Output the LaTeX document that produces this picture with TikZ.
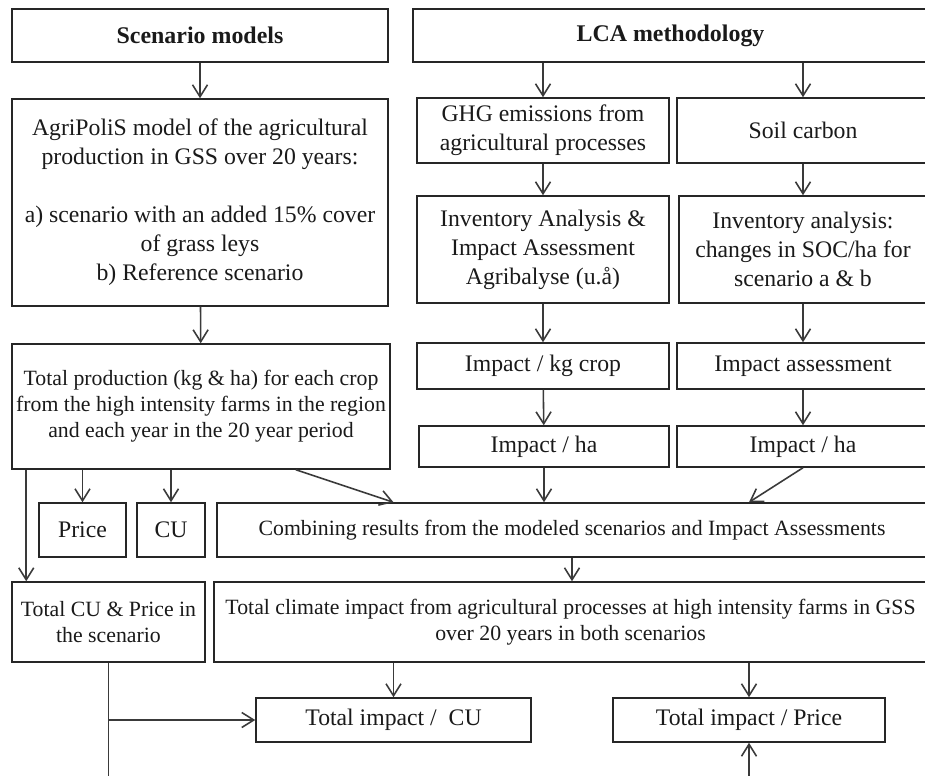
\documentclass[tikz,border=0pt]{standalone}
\usepackage{fontspec}
\setmainfont{Liberation Serif}
\usepackage{tikz}
\usetikzlibrary{arrows.meta,positioning,calc}
\definecolor{ink}    {HTML}{1A1A1A}
\definecolor{boxline}{HTML}{262626}
\definecolor{wire}   {HTML}{3A3A3A}
\tikzset{
  flownode/.style={
    rectangle, draw=boxline, line width=0.85pt, fill=white,
    text=ink, font=\fontsize{13.5}{16.5}\selectfont, align=center,
    inner sep=2pt
  },
  flowhead/.style={
    flownode, font=\fontsize{13.6}{16.5}\selectfont\bfseries
  },
  flowsmall/.style={
    flownode, font=\fontsize{12.4}{14.8}\selectfont
  },
  flowarrow/.style={
    -{Straight Barb[length=2.4mm, width=3mm, line width=0.9pt]}, line width=0.9pt, draw=wire
  },
  flowline/.style={line width=0.9pt, draw=wire}
}

\begin{document}
\begin{tikzpicture}[
          x=0.02cm, y=-0.02cm,
          wh/.style 2 args={minimum width=#1*0.02cm, minimum height=#2*0.02cm}
        ]
        \useasboundingbox (0,0) rectangle (925,776);
        \clip (0,0) rectangle (925,776);
        \node[flowhead, wh={376}{53}]  (scen) at (200,35.5) {Scenario models};
        \node[flowhead, wh={515}{53}]  (lca)  at (670.5,35.5) {LCA methodology};
        \node[flownode, wh={376}{207}] (agri) at (200,202.5) {AgriPoliS model of the agricultural\\production in GSS over 20 years:\\[16.5pt]a) scenario with an added 15\% cover\\of grass leys\\b) Reference scenario};
        \node[flownode, wh={252}{65}]  (ghg)  at (543,130.5) {GHG emissions from\\agricultural processes};
        \node[flownode, wh={252}{65}]  (soil) at (803,130.5) {Soil carbon};
        \node[flownode, wh={252}{107}] (inva) at (543,249.5) {Inventory Analysis \&\\Impact Assessment\\Agribalyse (u.å)};
        \node[flownode, wh={248}{107}] (invb) at (803,249.5) {Inventory analysis:\\changes in SOC/ha for\\scenario a \& b};
        \node[flowsmall, wh={378}{125}] (prod) at (201,406.5) {Total production (kg \& ha) for each crop\\from the high intensity farms in the region\\and each year in the 20 year period};
        \node[flownode, wh={252}{46}]  (kg)   at (543,366) {Impact / kg crop};
        \node[flownode, wh={252}{46}]  (ias)  at (803,366) {Impact assessment};
        \node[flownode, wh={250}{41}]  (haa)  at (544,446.5) {Impact / ha};
        \node[flownode, wh={252}{41}]  (hab)  at (803,446.5) {Impact / ha};
        \node[flownode, wh={87}{54}]   (price) at (82.5,530) {Price};
        \node[flownode, wh={68}{54}]   (cu)   at (171,530) {CU};
        \node[flowsmall, wh={710}{54}] (comb) at (572,530) {Combining results from the modeled scenarios and Impact Assessments};
        \node[flowsmall, wh={193}{80}] (tcu)  at (108.5,622) {Total CU \& Price in\\the scenario};
        \node[flowsmall, wh={713}{80}] (clim) at (570.5,622) {Total climate impact from agricultural processes at high intensity farms in GSS\\over 20 years in both scenarios};
        \node[flownode, wh={275}{44}]  (ticu) at (393.5,720) {Total impact /\ \ CU};
        \node[flownode, wh={272}{44}]  (tip)  at (749,720) {Total impact / Price};
        \coordinate (bot) at (0,800);
        \draw[flowarrow] (scen) -- (agri);
        \draw[flowarrow] (lca.south -| ghg) -- (ghg);
        \draw[flowarrow] (lca.south -| soil) -- (soil);
        \draw[flowarrow] (ghg) -- (inva);
        \draw[flowarrow] (soil) -- (invb);
        \draw[flowarrow] (inva) -- (kg);
        \draw[flowarrow] (invb) -- (ias);
        \draw[flowarrow] (kg) -- (haa);
        \draw[flowarrow] (ias) -- (hab);
        \draw[flowarrow] (agri) -- (prod);
        \draw[flowarrow] (haa.south) -- (haa.south |- comb.north);
        \draw[flowarrow] (hab.south) -- (comb.north -| tip);
        \draw[flowarrow] ($(prod.south)!0.5!(prod.south east)$) -- (comb.north -| ticu);
        \draw[flowarrow] (prod.south -| price) -- (price);
        \draw[flowarrow] (prod.south -| cu) -- (cu);
        \draw[flowarrow] ([xshift=0.3cm]prod.south west) -- ([xshift=0.3cm]tcu.north west);
        \draw[flowarrow] (comb.south) -- (comb.south |- clim.north);
        \draw[flowarrow] (clim.south -| ticu) -- (ticu);
        \draw[flowarrow] (clim.south -| tip) -- (tip);
        \draw[flowline] (tcu.south) -- (tcu.south |- bot);
        \draw[flowarrow] (tcu.south |- ticu.west) -- (ticu.west);
        \draw[flowarrow] (tip.south |- bot) -- (tip.south);
      \end{tikzpicture}
\end{document}
